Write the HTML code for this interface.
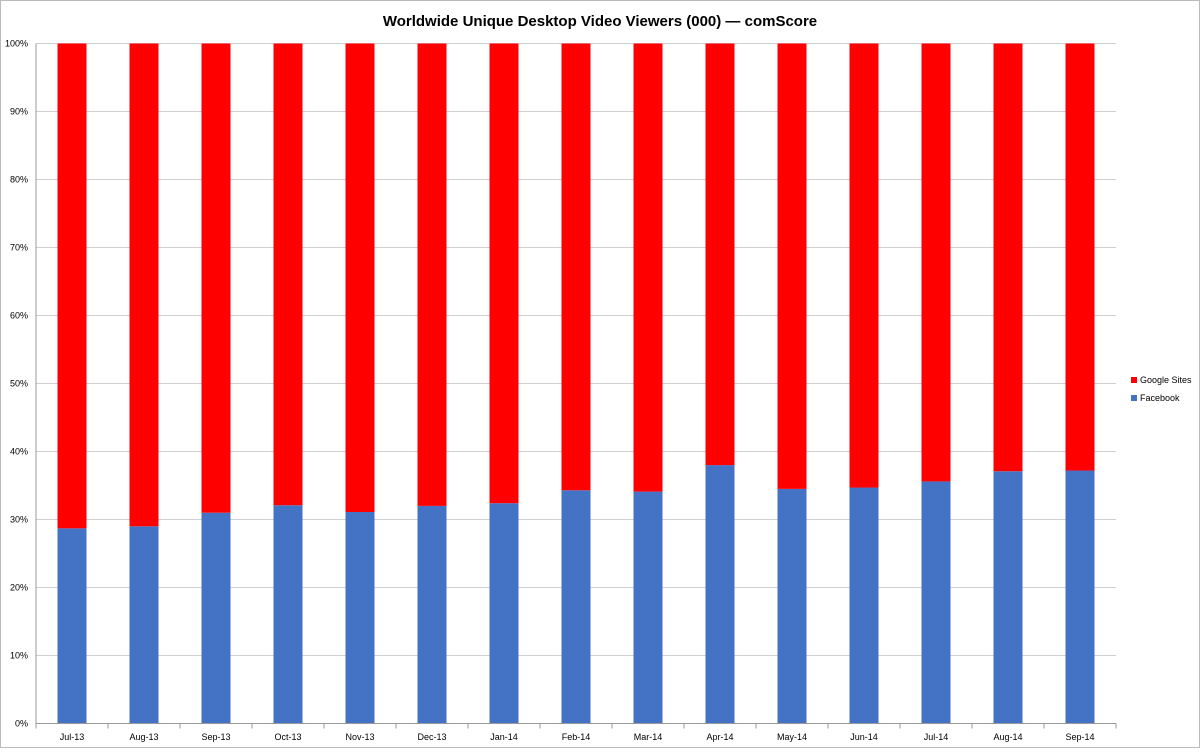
<!DOCTYPE html>
<html><head><meta charset="utf-8"><style>
body{margin:0;background:#fff;font-family:"Liberation Sans",sans-serif}
svg text{font-family:"Liberation Sans",sans-serif}
</style></head><body>
<svg width="1200" height="748">
<rect x="0.5" y="0.5" width="1199" height="747" fill="#fff" stroke="#bbb"/>
<text x="600" y="26" text-anchor="middle" font-size="15" font-weight="bold" fill="#000">Worldwide Unique Desktop Video Viewers (000) — comScore</text>
<g id="grid"></g><g id="bars"></g><g id="axes"></g>
<g>
<rect x="1131" y="377" width="6" height="6" fill="#ff0000"/>
<text x="1140" y="383" font-size="9">Google Sites</text>
<rect x="1131" y="395" width="6" height="6" fill="#4472c4"/>
<text x="1140" y="401" font-size="9">Facebook</text>
</g>
</svg>
<script>
const categories=["Jul-13","Aug-13","Sep-13","Oct-13","Nov-13","Dec-13","Jan-14","Feb-14","Mar-14","Apr-14","May-14","Jun-14","Jul-14","Aug-14","Sep-14"];
const facebook=[28.7,29.0,31.0,32.1,31.1,32.0,32.4,34.3,34.1,38.0,34.5,34.7,35.6,37.1,37.2];
const google=[71.3,71.0,69.0,67.9,68.9,68.0,67.6,65.7,65.9,62.0,65.5,65.3,64.4,62.9,62.8];
const yTicks=[0,10,20,30,40,50,60,70,80,90,100];
const NS="http://www.w3.org/2000/svg";
const x0=36,cw=72,y0=723.5,y1=43.5,bw=29;
const yS=v=>y0-(v/100)*(y0-y1);
const xS=i=>x0+i*cw;
function mk(t,a,p){const e=document.createElementNS(NS,t);for(const k in a)e.setAttribute(k,a[k]);p.appendChild(e);return e;}
const grid=document.getElementById('grid'),bars=document.getElementById('bars'),axes=document.getElementById('axes');
const xEnd=xS(categories.length);
yTicks.forEach(t=>{
 const l=mk('line',{x1:x0,x2:xEnd,y1:yS(t),y2:yS(t),stroke:'#d0d0d0','stroke-width':1},grid);
 
 
 const tx=mk('text',{x:x0-8,y:yS(t)+3,'text-anchor':'end','font-size':9,fill:'#000'},axes);
 tx.textContent=t+'%';
 
 
});
categories.forEach((c,i)=>{
 const cx=xS(i)+cw/2, tot=facebook[i]+google[i];
 const fb=facebook[i]/tot*100;
 const r1=mk('rect',{x:cx-bw/2,y:yS(fb),width:bw,height:yS(0)-yS(fb),fill:'#4472c4'},bars);
 
 
 const r2=mk('rect',{x:cx-bw/2,y:yS(100),width:bw,height:yS(fb)-yS(100),fill:'#ff0000'},bars);
 
 
 const tx=mk('text',{x:cx,y:740,'text-anchor':'middle','font-size':9,fill:'#000'},axes);
 tx.textContent=c;
 
 
});
for(let i=0;i<=categories.length;i++){
 const t=mk('line',{x1:xS(i),x2:xS(i),y1:y0,y2:y0+5,stroke:'#999'},axes);
 
 
}
const ya=mk('line',{x1:x0,x2:x0,y1:y1,y2:y0,stroke:'#999'},axes);


const xa=mk('line',{x1:x0,x2:xEnd,y1:y0,y2:y0,stroke:'#999'},axes);


</script>
</body></html>
